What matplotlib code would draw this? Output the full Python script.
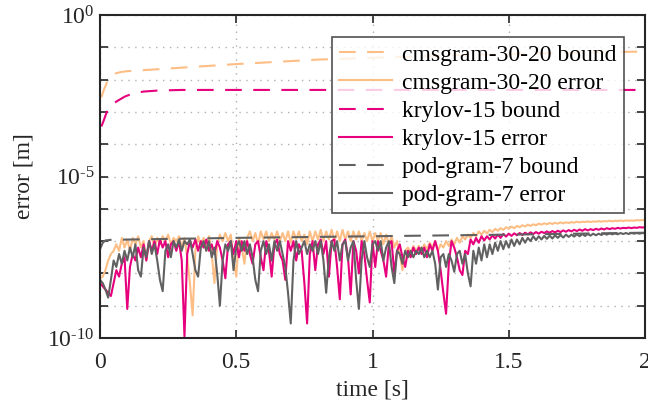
import numpy as np
import matplotlib
matplotlib.use("Agg")
import matplotlib.pyplot as plt

plt.rcParams['font.family'] = ['Liberation Serif', 'DejaVu Serif']
plt.rcParams['mathtext.fontset'] = 'custom'
plt.rcParams['mathtext.rm'] = 'Liberation Serif'
plt.rcParams['mathtext.it'] = 'Liberation Serif:italic'

# ---- data (log10 of error) ----
dt = 0.01  # error traces are sampled every 0.01 s

cms_bound_t = [0.005, 0.015, 0.025, 0.035, 0.045, 0.06, 0.08, 0.1, 0.3, 0.5, 0.8, 1.2, 1.6, 2.0]
cms_bound_log = [-2.55, -2.3, -2.1, -1.95, -1.86, -1.8, -1.76, -1.74, -1.63, -1.52, -1.38, -1.27, -1.19, -1.13]

kry_bound_t = [0.005, 0.01, 0.025, 0.04, 0.06, 0.09, 0.12, 0.16, 0.21, 0.3, 2.0]
kry_bound_log = [-3.45, -3.35, -3.0, -2.82, -2.68, -2.53, -2.43, -2.37, -2.34, -2.32, -2.32]

pod_bound_t = [0.0, 0.01, 0.02, 0.04, 0.5, 1.0, 1.5, 2.0]
pod_bound_log = [-7.25, -7.05, -6.98, -6.96, -6.9, -6.85, -6.8, -6.74]

cms_err_log = [
    -8.15, -8.1, -7.9, -7.6, -7.4, -7.3, -7.1, -7.3, -6.9, -7.2,
    -6.95, -7.3, -6.9, -7.1, -6.85, -7.2, -7.0, -7.6, -7.0, -6.85,
    -7.2, -6.9, -7.1, -6.85, -7.0, -6.8, -7.1, -6.9, -7.0, -6.85,
    -7.2, -6.9, -7.5, -8.3, -9.3, -7.3, -6.85, -7.1, -6.9, -7.3,
    -6.85, -7.4, -8.3, -7.1, -6.8, -7.0, -6.75, -7.0, -6.8, -7.6,
    -8.1, -6.9, -7.2, -7.7, -6.9, -6.7, -7.0, -6.75, -7.1, -6.7,
    -6.95, -6.7, -7.0, -6.75, -6.95, -6.7, -7.0, -6.75, -7.0, -6.7,
    -7.05, -6.7, -6.95, -6.7, -7.0, -6.8, -7.1, -6.7, -7.0, -6.7,
    -6.95, -6.65, -7.0, -6.7, -6.95, -6.65, -7.0, -6.7, -7.0, -6.65,
    -6.95, -6.7, -7.0, -6.7, -6.95, -6.7, -7.0, -6.75, -7.0, -6.7,
    -7.0, -6.75, -7.0, -6.75, -7.1, -6.8, -7.1, -6.85, -7.2, -7.0,
    -7.4, -7.9, -7.3, -7.2, -7.35, -7.15, -7.3, -7.15, -7.3, -7.1,
    -7.25, -7.05, -7.2, -7.0, -7.3, -7.1, -7.2, -7.0, -7.15, -6.95,
    -7.1, -6.9, -7.05, -6.85, -6.95, -6.8, -6.9, -6.75, -6.85, -6.7,
    -6.8, -6.68, -6.76, -6.65, -6.72, -6.62, -6.68, -6.6, -6.65, -6.57,
    -6.62, -6.55, -6.6, -6.53, -6.57, -6.51, -6.55, -6.49, -6.53, -6.48,
    -6.51, -6.46, -6.49, -6.45, -6.48, -6.44, -6.47, -6.43, -6.46, -6.42,
    -6.45, -6.42, -6.44, -6.41, -6.43, -6.4, -6.42, -6.4, -6.41, -6.39,
    -6.41, -6.39, -6.4, -6.38, -6.4, -6.38, -6.39, -6.37, -6.39, -6.37,
    -6.38, -6.36, -6.38, -6.36, -6.37, -6.36, -6.37, -6.35, -6.36, -6.35,
    -6.35,
]

kry_err_log = [
    -8.3, -8.4, -8.5, -8.6, -8.7, -8.3, -7.9, -8.1, -7.7, -7.5,
    -9.1, -7.8, -7.4, -7.6, -7.2, -7.5, -7.1, -7.6, -7.0, -7.3,
    -7.0, -7.4, -6.95, -7.2, -7.0, -7.5, -7.1, -7.0, -7.3, -7.0,
    -7.6, -9.95, -7.4, -7.0, -7.2, -6.95, -7.3, -7.0, -7.2, -6.95,
    -7.3, -7.1, -7.4, -7.0, -7.2, -7.6, -8.15, -7.1, -7.0, -7.4,
    -7.0, -7.5, -7.0, -7.3, -7.0, -7.4, -7.7, -7.1, -7.0, -7.5,
    -7.9, -7.0, -7.3, -8.1, -7.1, -6.95, -7.4, -7.6, -8.2, -7.0,
    -7.3, -7.0, -7.6, -7.1, -7.3, -8.3, -9.55, -7.4, -7.0, -7.9,
    -7.1, -6.95, -7.4, -7.0, -8.1, -7.0, -6.95, -7.8, -8.8, -7.1,
    -6.95, -7.5, -8.65, -7.0, -7.3, -8.0, -7.0, -7.4, -8.2, -8.9,
    -7.0, -7.8, -7.0, -7.3, -7.6, -8.1, -7.1, -7.0, -8.0, -7.3,
    -7.1, -7.5, -7.8, -7.3, -7.5, -7.2, -7.4, -7.2, -7.4, -7.2,
    -7.5, -7.1, -7.3, -7.0, -7.3, -7.9, -8.6, -9.25, -7.7, -7.0,
    -7.2, -7.5, -7.9, -8.05, -7.3, -7.4, -6.95, -7.1, -6.9, -7.05,
    -6.85, -6.98, -6.85, -6.95, -6.82, -6.92, -6.8, -6.9, -6.78, -6.86,
    -6.77, -6.84, -6.76, -6.82, -6.75, -6.81, -6.74, -6.79, -6.73, -6.78,
    -6.72, -6.77, -6.71, -6.75, -6.7, -6.74, -6.69, -6.73, -6.68, -6.72,
    -6.67, -6.71, -6.66, -6.7, -6.65, -6.69, -6.64, -6.68, -6.63, -6.67,
    -6.63, -6.66, -6.62, -6.65, -6.61, -6.64, -6.6, -6.63, -6.6, -6.62,
    -6.59, -6.61, -6.59, -6.6, -6.58, -6.6, -6.58, -6.59, -6.57, -6.58,
    -6.57,
]

pod_err_log = [
    -8.2, -8.3, -8.5, -8.75, -8.2, -7.6, -7.8, -7.4, -7.7, -7.3,
    -7.6, -7.2, -7.5, -7.1, -7.9, -8.1, -7.2, -7.5, -7.0, -7.4,
    -7.1, -7.6, -8.2, -8.55, -7.3, -7.1, -7.5, -7.0, -7.2, -6.95,
    -7.3, -7.0, -7.1, -6.95, -7.4, -7.9, -8.1, -7.2, -7.0, -7.3,
    -7.0, -7.5, -7.2, -8.0, -9.0, -7.6, -7.1, -7.3, -7.0, -7.9,
    -7.2, -7.0, -7.3, -7.0, -7.4, -7.1, -7.5, -8.2, -8.55, -7.3,
    -7.0, -7.4, -7.1, -7.6, -7.0, -7.3, -7.0, -7.4, -7.8, -8.6,
    -9.55, -7.6, -7.0, -7.4, -7.2, -7.0, -7.4, -7.1, -7.3, -7.0,
    -7.4, -7.0, -7.6, -8.6, -7.5, -7.0, -7.3, -7.0, -7.6, -7.1,
    -7.0, -7.6, -7.2, -7.0, -8.2, -9.1, -7.6, -7.0, -7.5, -7.8,
    -7.1, -7.0, -7.3, -7.0, -7.6, -7.2, -7.0, -7.8, -8.3, -7.3,
    -7.4, -7.7, -7.3, -7.5, -7.3, -7.5, -7.3, -7.4, -7.2, -7.5,
    -7.3, -7.5, -7.3, -7.7, -8.5, -7.5, -7.4, -7.8, -7.4, -7.6,
    -7.95, -7.4, -7.3, -7.7, -7.4, -8.0, -8.4, -7.3, -7.7, -7.2,
    -7.6, -7.1, -7.5, -7.1, -7.4, -7.05, -7.3, -7.0, -7.25, -7.0,
    -7.2, -6.95, -7.15, -6.95, -7.1, -6.9, -7.05, -6.9, -7.0, -6.85,
    -6.97, -6.85, -6.95, -6.84, -6.93, -6.83, -6.92, -6.82, -6.9, -6.81,
    -6.89, -6.8, -6.87, -6.8, -6.86, -6.79, -6.85, -6.78, -6.84, -6.78,
    -6.83, -6.77, -6.82, -6.77, -6.81, -6.76, -6.8, -6.76, -6.79, -6.76,
    -6.79, -6.75, -6.78, -6.75, -6.78, -6.75, -6.77, -6.75, -6.77, -6.75,
    -6.76,
]

labels = ['cmsgram-30-20 bound', 'cmsgram-30-20 error',
          'krylov-15 bound', 'krylov-15 error',
          'pod-gram-7 bound', 'pod-gram-7 error']
c_orange = '#FDBE85'
c_magenta = '#E7007D'
c_gray = '#616161'
fs = 17

fig = plt.figure(figsize=(6.48, 4.08), dpi=100)
ax = fig.add_axes([100/648, 1 - 338/408, 545/648, 323/408])

def t_of(vals):
    return np.arange(len(vals)) * dt

dash = (8, 5.5)
lw = 1.5
ax.plot(cms_bound_t, 10.0**np.array(cms_bound_log), color=c_orange, lw=lw, dashes=dash, label=labels[0])
ax.plot(t_of(cms_err_log), 10.0**np.array(cms_err_log), color=c_orange, lw=lw, label=labels[1])
ax.plot(kry_bound_t, 10.0**np.array(kry_bound_log), color=c_magenta, lw=lw, dashes=dash, label=labels[2])
ax.plot(t_of(kry_err_log), 10.0**np.array(kry_err_log), color=c_magenta, lw=lw, label=labels[3])
ax.plot(pod_bound_t, 10.0**np.array(pod_bound_log), color=c_gray, lw=lw, dashes=dash, label=labels[4])
ax.plot(t_of(pod_err_log), 10.0**np.array(pod_err_log), color=c_gray, lw=lw, label=labels[5])

ax.set_yscale('log')
ax.set_xlim(0, 2)
ax.set_ylim(1e-10, 1e0)
ax.set_xticks([0, 0.5, 1, 1.5, 2])
ax.set_xticklabels(['0', '0.5', '1', '1.5', '2'])
decades = list(range(-10, 1))
ax.set_yticks([10.0**d for d in decades])
ax.set_yticklabels([r'$10^{\text{%d}}$' % d if d % 5 == 0 else '' for d in decades])
ax.yaxis.set_minor_locator(matplotlib.ticker.NullLocator())

ax.grid(True, which='major', ls=(0, (1, 4)), color='#b0b0b0', lw=1.0)
ax.tick_params(direction='in', length=6, width=1.2, labelsize=fs, colors='#262626',
               top=True, right=True)
ax.tick_params(axis='x', pad=10)
ax.tick_params(axis='y', pad=4)
for s in ax.spines.values():
    s.set_linewidth(1.5)
    s.set_color('#262626')

ax.set_xlabel('time [s]', fontsize=fs, color='#262626', labelpad=5)
ax.set_ylabel('error [m]', fontsize=fs, color='#262626', labelpad=9)

leg = ax.legend(loc='upper right', bbox_to_anchor=(524/545, 301/323), borderaxespad=0,
                fontsize=fs, frameon=True, fancybox=False, handlelength=2.25,
                labelspacing=0.28, borderpad=0.3, handletextpad=0.45)
leg.get_frame().set_edgecolor('#262626')
leg.get_frame().set_linewidth(1.2)

fig.savefig('out.png', dpi=100)
